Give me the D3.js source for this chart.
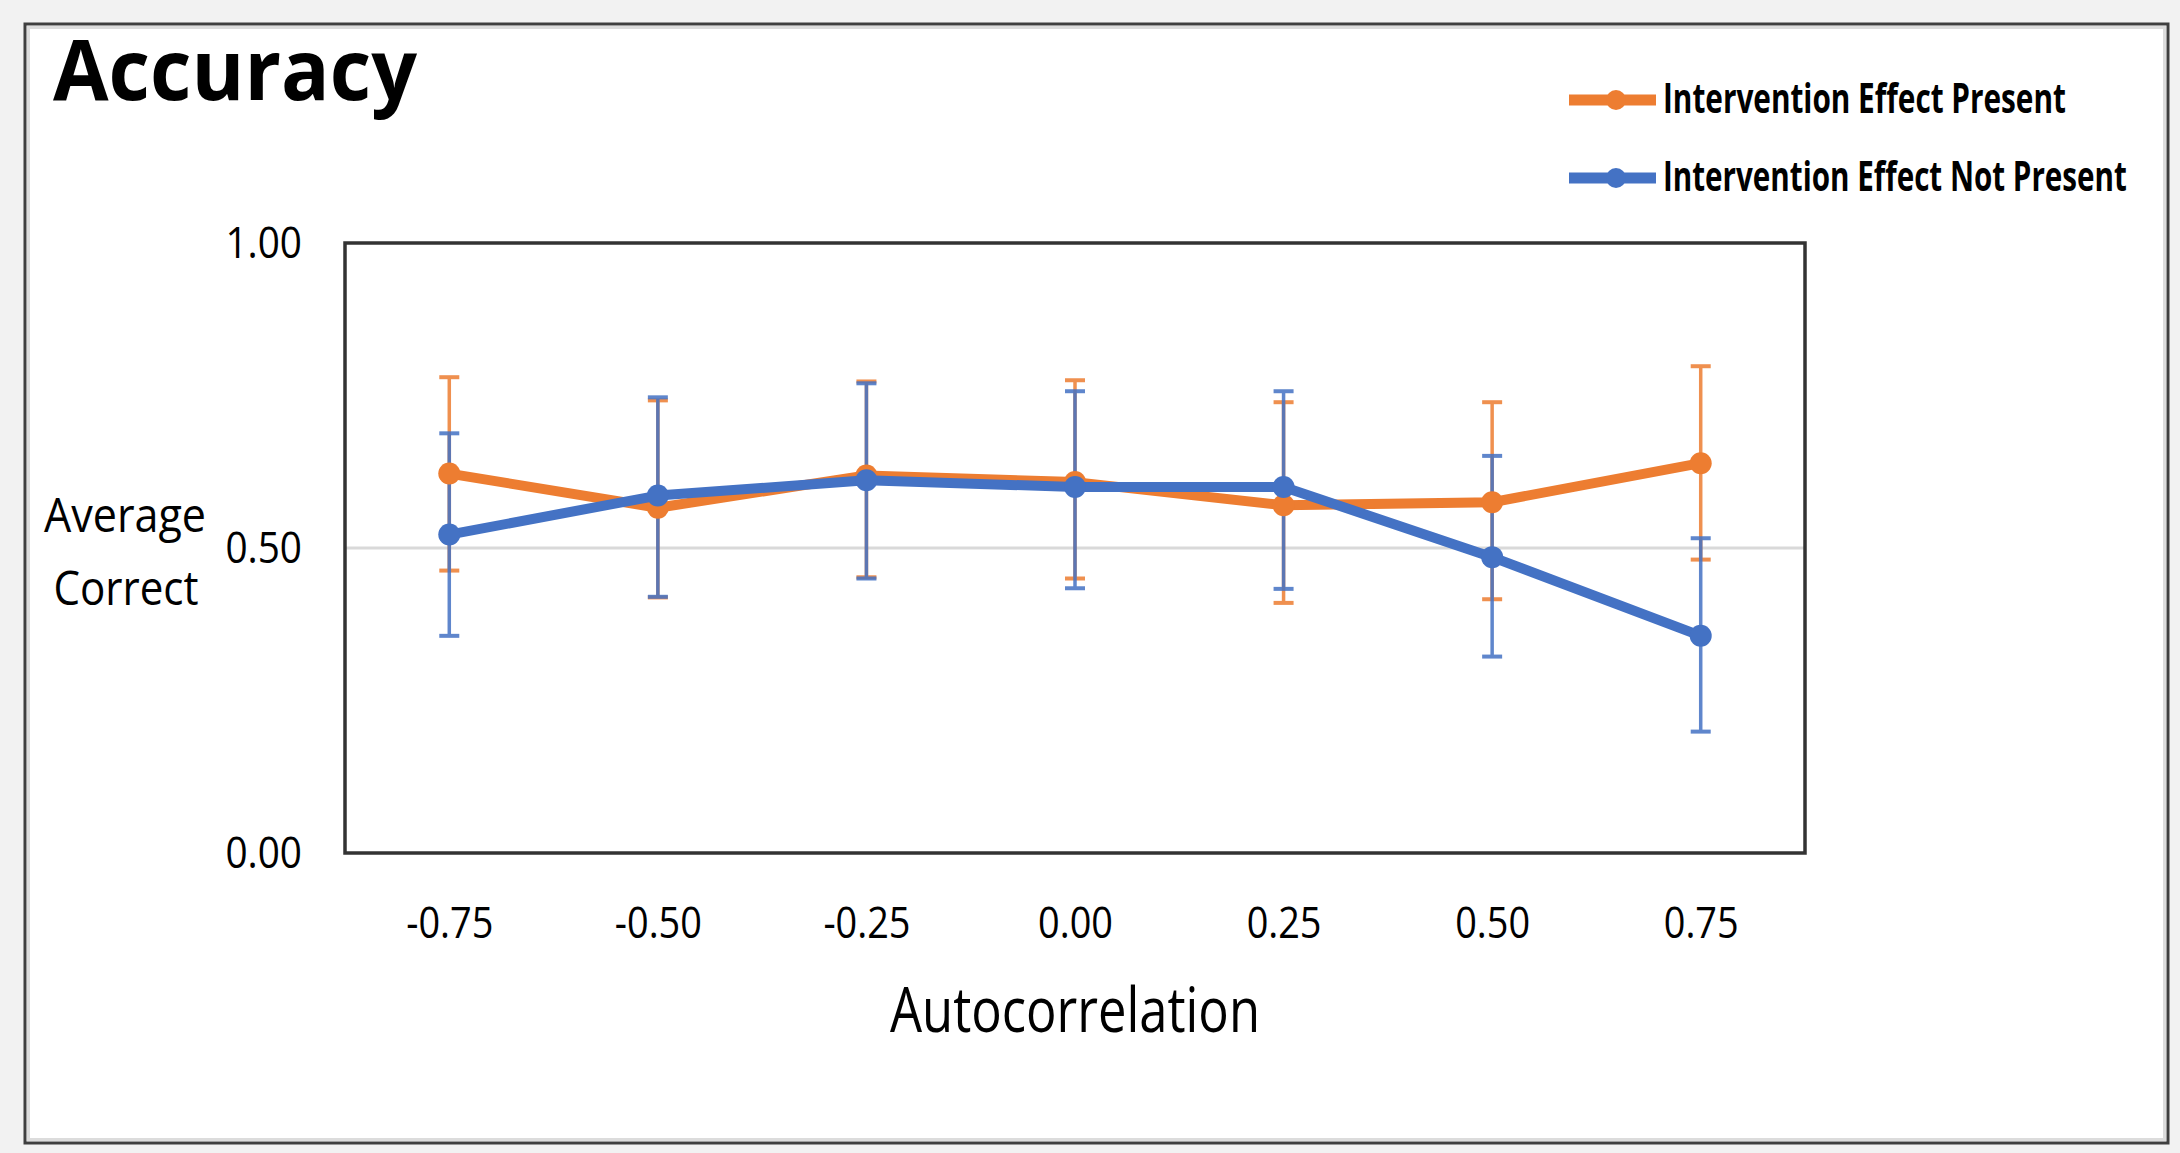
<!DOCTYPE html>
<html>
<head>
<meta charset="utf-8">
<script src="https://cdn.jsdelivr.net/npm/d3@7"></script>
<style>
  body { margin: 0; background: #f2f2f2; }
  svg { display: block; }
  text { font-family: "Open Sans", sans-serif; fill: #000; }
</style>
</head>
<body>
<svg id="chart" width="2180" height="1153"></svg>
<script>
// data
var categories = ["-0.75", "-0.50", "-0.25", "0.00", "0.25", "0.50", "0.75"]
var seriesNames = ["Intervention Effect Present", "Intervention Effect Not Present"]
var presentMean = [0.622, 0.566, 0.619, 0.608, 0.570, 0.575, 0.639]
var presentHigh = [0.780, 0.742, 0.773, 0.775, 0.739, 0.739, 0.798]
var presentLow  = [0.463, 0.419, 0.452, 0.450, 0.410, 0.416, 0.481]
var notPresentMean = [0.522, 0.586, 0.611, 0.600, 0.600, 0.485, 0.356]
var notPresentHigh = [0.688, 0.747, 0.770, 0.757, 0.757, 0.651, 0.516]
var notPresentLow  = [0.356, 0.420, 0.450, 0.434, 0.433, 0.322, 0.199]
var yTicks = [0, 0.5, 1]
var colors = ["#ed7d31", "#4472c4"]

var svg = d3.select("#chart")
var plot = { left: 345, right: 1805, top: 243, bottom: 853 }

// outer frame
svg.append("rect")
    .attr("x", 25).attr("y", 24)
    .attr("width", 2143).attr("height", 1119)
    .attr("fill", "#fff")
    .style("stroke", "#3f3f3f")
    .style("stroke-width", 3)
svg.append("rect")
    .attr("x", 28.5).attr("y", 27.5)
    .attr("width", 2136).attr("height", 1112)
    .attr("fill", "none")
    .style("stroke", "#dcdcdc")
    .style("stroke-width", 3)

// scales
var x = d3.scalePoint()
    .domain(categories)
    .range([plot.left, plot.right])
    .padding(0.5)

var y = d3.scaleLinear()
    .domain([0, 1])
    .range([plot.bottom, plot.top])

// squeeze text to a given width (source font is narrower)
function squeeze(sel, factor) {
    sel.each(function() {
        var w = this.getComputedTextLength()
        d3.select(this).attr("textLength", w * factor).attr("lengthAdjust", "spacingAndGlyphs")
    })
}

// gridline at 0.5
svg.append("line")
    .attr("x1", plot.left).attr("x2", plot.right)
    .attr("y1", y(0.5)).attr("y2", y(0.5))
    .style("stroke", "#d9d9d9")
    .style("stroke-width", 3)

// y axis
var yAxis = svg.append("g")
    .attr("transform", "translate(" + plot.left + ",0)")
    .call(d3.axisLeft(y).tickValues(yTicks).tickFormat(d3.format(".2f")).tickSize(0).tickPadding(43))
yAxis.select(".domain").remove()
yAxis.selectAll("text").style("font-size", "44px").style("font-family", "Open Sans").call(squeeze, 0.88)

// x axis
var xAxis = svg.append("g")
    .attr("transform", "translate(0," + plot.bottom + ")")
    .call(d3.axisBottom(x).tickSize(0).tickPadding(54))
xAxis.select(".domain").remove()
xAxis.selectAll("text").style("font-size", "44px").style("font-family", "Open Sans").call(squeeze, 0.86)

// plot border
svg.append("rect")
    .attr("x", plot.left).attr("y", plot.top)
    .attr("width", plot.right - plot.left).attr("height", plot.bottom - plot.top)
    .attr("fill", "none")
    .style("stroke", "#333")
    .style("stroke-width", 3.5)

var series = [
    { name: seriesNames[0], mean: presentMean, hi: presentHigh, lo: presentLow, color: colors[0] },
    { name: seriesNames[1], mean: notPresentMean, hi: notPresentHigh, lo: notPresentLow, color: colors[1] }
]

// error bars
series.forEach(function(s) {
    var g = svg.append("g").attr("class", "errbars").style("opacity", 0.85)
    var bars = g.selectAll("g").data(categories).enter().append("g")
    bars.append("line")
        .attr("x1", function(d) { return x(d) }).attr("x2", function(d) { return x(d) })
        .attr("y1", function(d, i) { return y(s.hi[i]) })
        .attr("y2", function(d, i) { return y(s.lo[i]) })
        .style("stroke", s.color).style("stroke-width", 3.5)
    bars.append("line")
        .attr("x1", function(d) { return x(d) - 10 }).attr("x2", function(d) { return x(d) + 10 })
        .attr("y1", function(d, i) { return y(s.hi[i]) })
        .attr("y2", function(d, i) { return y(s.hi[i]) })
        .style("stroke", s.color).style("stroke-width", 4)
    bars.append("line")
        .attr("x1", function(d) { return x(d) - 10 }).attr("x2", function(d) { return x(d) + 10 })
        .attr("y1", function(d, i) { return y(s.lo[i]) })
        .attr("y2", function(d, i) { return y(s.lo[i]) })
        .style("stroke", s.color).style("stroke-width", 4)
})

// lines + markers
var line = d3.line()
    .x(function(d) { return x(d.cat) })
    .y(function(d) { return y(d.v) })

series.forEach(function(s) {
    var pts = categories.map(function(c, i) { return { cat: c, v: s.mean[i] } })
    svg.append("path")
        .datum(pts)
        .attr("d", line)
        .attr("fill", "none")
        .style("stroke", s.color)
        .style("stroke-width", 10)
        .style("stroke-linejoin", "round")
    svg.append("g").selectAll("circle")
        .data(pts)
        .enter().append("circle")
        .attr("cx", function(d) { return x(d.cat) })
        .attr("cy", function(d) { return y(d.v) })
        .attr("r", 11)
        .style("fill", s.color)
})

// title
svg.append("text")
    .attr("x", 53).attr("y", 100)
    .style("font-size", "84px")
    .style("font-weight", "bold")
    .attr("textLength", 364).attr("lengthAdjust", "spacingAndGlyphs")
    .text("Accuracy")

// y title
var yTitle = svg.append("text")
    .attr("text-anchor", "middle")
    .style("font-size", "48px")
yTitle.append("tspan").attr("x", 125).attr("y", 532)
    .attr("textLength", 162).attr("lengthAdjust", "spacingAndGlyphs").text("Average")
yTitle.append("tspan").attr("x", 126).attr("y", 605)
    .attr("textLength", 145).attr("lengthAdjust", "spacingAndGlyphs").text("Correct")

// x title
svg.append("text")
    .attr("x", (plot.left + plot.right) / 2).attr("y", 1032)
    .attr("text-anchor", "middle")
    .style("font-size", "62px")
    .attr("textLength", 370).attr("lengthAdjust", "spacingAndGlyphs")
    .text("Autocorrelation")

// legend
var legendWidths = [403, 464]
var legend = svg.append("g").selectAll("g")
    .data(series)
    .enter().append("g")
    .attr("transform", function(d, i) { return "translate(1569," + (100 + i * 78) + ")" })
legend.append("line")
    .attr("x1", 0).attr("x2", 87)
    .style("stroke", function(d) { return d.color })
    .style("stroke-width", 11)
legend.append("circle")
    .attr("cx", 47).attr("r", 10)
    .style("fill", function(d) { return d.color })
legend.append("text")
    .attr("x", 0).attr("y", 0)
    .style("font-size", "41px")
    .style("font-weight", "bold")
    .text(function(d) { return d.name })
    .attr("transform", function(d, i) {
        var w = this.getComputedTextLength()
        return "translate(94,13) scale(" + (legendWidths[i] / w) + ",1)"
    })
</script>
</body>
</html>
